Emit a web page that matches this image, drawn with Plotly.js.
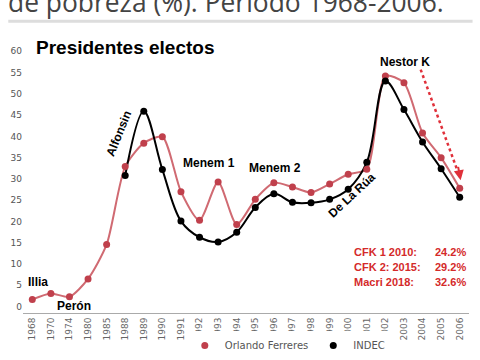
<!DOCTYPE html>
<html>
<head>
<meta charset="utf-8">
<script src="https://cdn.plot.ly/plotly-3.0.1.min.js"></script>
<style>html,body{margin:0;padding:0;background:#fff;}#chart{width:480px;height:360px;}</style>
</head>
<body>
<div id="chart"></div>
<script>
const years = ["1968","1970","1974","1980","1985","1988","1989","1990","1991","1992","1993","1994","1995","1996","1997","1998","1999","2000","2001","2002","2003","2004","2005","2006"];
const redValues = [1.7, 3.1, 2.3, 6.5, 14.6, 32.9, 38.4, 39.9, 27.0, 20.3, 29.3, 19.3, 25.2, 29.1, 28.1, 26.8, 28.8, 31.1, 32.3, 54.2, 52.6, 40.8, 35.0, 27.8];
const blackValues = [null, null, null, null, null, 30.8, 45.9, 32.2, 20.1, 16.3, 15.2, 17.5, 23.3, 26.5, 24.5, 24.4, 25.2, 27.6, 33.9, 53.0, 46.3, 38.7, 32.4, 25.7];
const redName = "Orlando Ferreres";
const blackName = "INDEC";
const titleText = "de pobreza (%). Período 1968-2006.";
const presidents = [
  {text: "Illia", x: 0.3, y: 5.9, angle: 0},
  {text: "Perón", x: 2.23, y: 0.2, angle: 0},
  {text: "Alfonsin", x: 4.68, y: 40.7, angle: -68},
  {text: "Menem 1", x: 9.5, y: 33.7, angle: 0},
  {text: "Menem 2", x: 13.04, y: 32.6, angle: 0},
  {text: "De La Rúa", x: 17.2, y: 26.3, angle: -43},
  {text: "Nestor K", x: 20.05, y: 57.4, angle: 0}
];
const laterLabels = ["CFK 1 2010:", "CFK 2: 2015:", "Macri 2018:"];
const laterValues = ["24.2%", "29.2%", "32.6%"];
const laterY = [12.9, 9.25, 5.7];

const xIdx = years.map((_, i) => i);
const traces = [
  {x: xIdx, y: redValues, name: redName, type: "scatter", mode: "lines", showlegend: false,
    line: {color: "#d06a72", width: 2, shape: "spline", smoothing: 0.7}},
  {x: xIdx, y: blackValues, name: blackName, type: "scatter", mode: "lines", showlegend: false,
    line: {color: "#000000", width: 2, shape: "spline", smoothing: 1}},
  {x: xIdx, y: redValues, name: redName, type: "scatter", mode: "markers",
    marker: {color: "#c0404c", size: 7}},
  {x: xIdx, y: blackValues, name: blackName, type: "scatter", mode: "markers",
    marker: {color: "#000000", size: 7}}
];

const labelFont = {family: "Liberation Sans", size: 12, color: "#000", weight: "bold"};
const redFont = {family: "Liberation Sans", size: 11, color: "#d42a2a", weight: "bold"};
const annotations = [];
annotations.push({text: titleText, xref: "paper", yref: "paper", x: -0.037, y: 1.094, xanchor: "left", yanchor: "bottom",
  showarrow: false, font: {family: "Open Sans", size: 26.4, color: "#444"}});
annotations.push({text: "Presidentes electos", xref: "x", yref: "y", x: 0.1, y: 61, xanchor: "left", yanchor: "middle",
  showarrow: false, font: {family: "Liberation Sans", size: 19, color: "#000", weight: "bold"}});
presidents.forEach(p => annotations.push({text: p.text, xref: "x", yref: "y", x: p.x, y: p.y, xanchor: "center", yanchor: "middle",
  textangle: p.angle, showarrow: false, font: labelFont}));
laterLabels.forEach((t, i) => {
  annotations.push({text: t, xref: "x", yref: "y", x: 17.2, y: laterY[i], xanchor: "left", yanchor: "middle",
    showarrow: false, font: redFont});
  annotations.push({text: laterValues[i], xref: "x", yref: "y", x: 23.45, y: laterY[i], xanchor: "right", yanchor: "middle",
    showarrow: false, font: redFont});
});
annotations.push({text: "", xref: "x", yref: "y", x: 23.05, y: 29.7, axref: "x", ayref: "y", ax: 22.9, ay: 33.2,
  showarrow: true, arrowhead: 2, arrowsize: 1, arrowwidth: 2, arrowcolor: "#e0303a"});

const layout = {
  width: 480, height: 360,
  margin: {l: 23, r: 11, t: 47, b: 47},
  paper_bgcolor: "#ffffff", plot_bgcolor: "#ffffff",
  font: {family: "DejaVu Sans", color: "#555"},
  xaxis: {
    type: "linear", range: [-0.5, 23.5], tickmode: "array", tickvals: xIdx, ticktext: years,
    tickangle: -90, tickfont: {size: 9, color: "#666"}, showgrid: false, zeroline: false,
    showline: true, linecolor: "#aaa", linewidth: 1, ticks: "", automargin: false
  },
  yaxis: {
    range: [-1.5, 61], tickmode: "array", tickvals: [0,5,10,15,20,25,30,35,40,45,50,55,60],
    tickfont: {size: 9, color: "#555"}, showgrid: false, zeroline: false, showline: false, ticks: "", automargin: false
  },
  showlegend: true,
  legend: {orientation: "h", xref: "container", yref: "container", x: 0.385, xanchor: "left", y: -0.02, yanchor: "bottom",
    font: {size: 10, color: "#555"}, tracegroupgap: 0},
  shapes: [
    {type: "line", xref: "paper", yref: "paper", x0: -0.033, x1: 1.008, y0: 1.0965, y1: 1.0965, line: {color: "#dddddd", width: 3}},
    {type: "line", xref: "x", yref: "y", x0: 20.9, y0: 55.7, x1: 23.0, y1: 30.5, line: {color: "#e0303a", width: 2.5, dash: "dot"}}
  ],
  annotations: annotations
};

Plotly.newPlot("chart", traces, layout, {displayModeBar: false, staticPlot: true});
</script>
</body>
</html>
